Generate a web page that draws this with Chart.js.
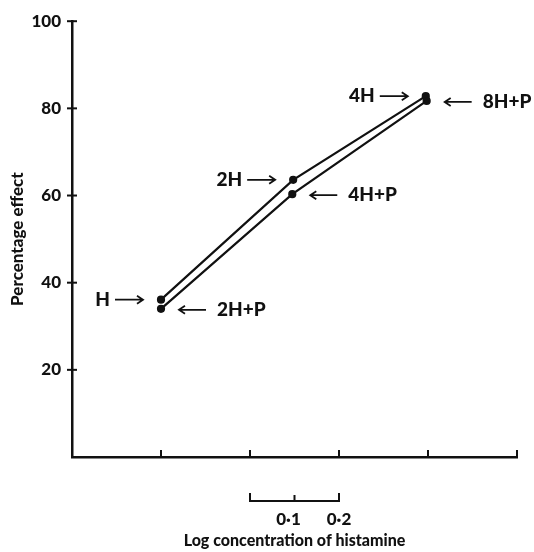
<!DOCTYPE html>
<html>
<head>
<meta charset="utf-8">
<script src="https://cdn.jsdelivr.net/npm/chart.js@4"></script>
<style>
html, body { margin: 0; padding: 0; background: #fff; }
</style>
</head>
<body>
<canvas id="myChart" width="534" height="552"></canvas>
<script>
// histamine alone: dose labels, log dose, % effect
let doseH = ["H", "2H", "4H"];
let logDoseH = [0.2, 0.497, 0.795];
let effectH = [36.1, 63.6, 82.8];

// histamine + P
let doseHP = ["2H+P", "4H+P", "8H+P"];
let logDoseHP = [0.2, 0.495, 0.797];
let effectHP = [34.0, 60.3, 81.7];

let yTicks = [20, 40, 60, 80, 100];
let xTicks = [0.2, 0.4, 0.6, 0.8, 1.0];
// scale bar under the axis (0.1 / 0.2 log units)
let barStops = [0.4, 0.5, 0.6];
let barLabels = ["0·1", "0·2"];

const ink = "#111";
const ctx = document.getElementById('myChart');

function arrow(c, x1, x2, y) {
    // line from x1 to x2, head at x2
    let dir = x2 > x1 ? 1 : -1;
    c.beginPath();
    c.moveTo(x1, y);
    c.lineTo(x2, y);
    c.moveTo(x2 - dir * 6, y - 4);
    c.lineTo(x2, y);
    c.lineTo(x2 - dir * 6, y + 4);
    c.stroke();
}

const extras = {
    id: 'extras',
    afterDraw(chart) {
        const c = chart.ctx;
        const xs = chart.scales.x, ys = chart.scales.y;
        c.save();
        c.strokeStyle = ink;
        c.fillStyle = ink;
        c.lineWidth = 2;

        // y ticks crossing the axis
        yTicks.forEach(v => {
            let y = ys.getPixelForValue(v);
            c.beginPath();
            c.moveTo(xs.left - 5, y);
            c.lineTo(xs.left + 5, y);
            c.stroke();
        });
        // x ticks pointing up
        xTicks.forEach(v => {
            let x = xs.getPixelForValue(v);
            c.beginPath();
            c.moveTo(x, ys.bottom);
            c.lineTo(x, ys.bottom - 7);
            c.stroke();
        });

        // labels with arrows
        c.font = "900 19px Lato";
        c.textBaseline = "middle";
        c.lineWidth = 1.8;
        let m0 = chart.getDatasetMeta(0).data;
        m0.forEach((p, i) => {
            arrow(c, p.x - 46, p.x - 18, p.y);
            c.textAlign = "right";
            c.fillText(doseH[i], p.x - 51, p.y);
        });
        let m1 = chart.getDatasetMeta(1).data;
        m1.forEach((p, i) => {
            arrow(c, p.x + 45, p.x + 18, p.y + 1);
            c.textAlign = "left";
            c.fillText(doseHP[i], p.x + 56, p.y + 1);
        });

        // scale bar
        let yb = 501;
        let bx = barStops.map(v => xs.getPixelForValue(v));
        c.lineWidth = 2;
        c.beginPath();
        c.moveTo(bx[0], yb - 8);
        c.lineTo(bx[0], yb);
        c.lineTo(bx[2], yb);
        c.lineTo(bx[2], yb - 8);
        c.moveTo(bx[1], yb);
        c.lineTo(bx[1], yb - 6);
        c.stroke();
        c.font = "900 17px Lato";
        c.textAlign = "center";
        c.fillText(barLabels[0], bx[1] - 6, 520);
        c.fillText(barLabels[1], bx[2], 520);
        c.restore();
    }
};

new Chart(ctx, {
    type: "scatter",
    data: {
        datasets: [{
            data: logDoseH.map((x, i) => ({x: x, y: effectH[i]})),
            showLine: true,
            borderColor: ink,
            backgroundColor: ink,
            borderWidth: 2.2,
            pointRadius: 3,
            pointBackgroundColor: ink
        }, {
            data: logDoseHP.map((x, i) => ({x: x, y: effectHP[i]})),
            showLine: true,
            borderColor: ink,
            backgroundColor: ink,
            borderWidth: 2.2,
            pointRadius: 3,
            pointBackgroundColor: ink
        }]
    },
    options: {
        responsive: false,
        animation: false,
        layout: {padding: {left: 0, top: 16, right: 17, bottom: 0}},
        plugins: {
            legend: {display: false},
            tooltip: {enabled: false}
        },
        scales: {
            x: {
                type: "linear",
                min: 0,
                max: 1,
                afterFit: s => { s.height = 95; },
                grid: {display: false, drawTicks: false},
                border: {display: true, color: ink, width: 2.5},
                ticks: {display: false},
                title: {
                    display: true,
                    text: "Log concentration of histamine",
                    color: ink,
                    font: {family: "Lato", size: 16, weight: "900"},
                    padding: {top: 0, bottom: 2}
                }
            },
            y: {
                min: 0,
                max: 100,
                afterFit: s => { s.width = 72; },
                grid: {display: false, drawTicks: false},
                border: {display: true, color: ink, width: 2.5},
                ticks: {
                    stepSize: 20,
                    padding: 11,
                    color: ink,
                    font: {family: "Lato", size: 17, weight: "900"},
                    callback: v => v === 0 ? "" : v
                },
                title: {
                    display: true,
                    text: "Percentage effect",
                    color: ink,
                    font: {family: "Lato", size: 17, weight: "900"},
                    padding: {top: 7, bottom: 0}
                }
            }
        }
    },
    plugins: [extras]
});
</script>
</body>
</html>
